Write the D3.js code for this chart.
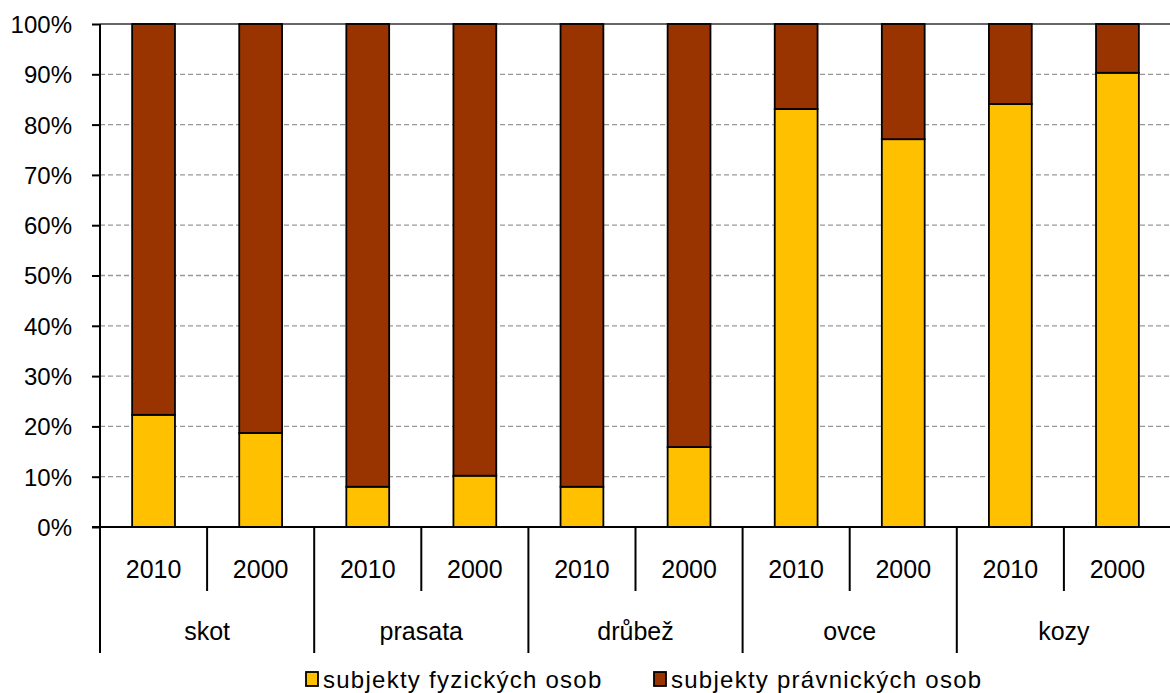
<!DOCTYPE html>
<html><head><meta charset="utf-8">
<script src="https://cdn.jsdelivr.net/npm/d3@7"></script>
<style>body{margin:0;background:#fff}svg{display:block;font-family:"Liberation Sans",Arial,sans-serif}</style>
</head><body><svg id="c" width="1170" height="693"></svg>
<script>
const groups = ["skot","prasata","drůbež","ovce","kozy"];
const years = ["2010","2000"];
// share of "subjekty fyzických osob" in %, per group in order of years
const fyzicke = [22.3, 18.7, 8.0, 10.2, 8.0, 15.9, 83.1, 77.1, 84.1, 90.3];
const seriesNames = ["subjekty fyzických osob","subjekty právnických osob"];
const colors = ["#FFC000","#993300"];
const yTicks = [0,10,20,30,40,50,60,70,80,90,100];

const svg = d3.select("#c");
const L = 100, R = 1171, T = 24, B = 527;
const rows = [];
groups.forEach((g,gi)=>years.forEach((y,yi)=>{
  const v = fyzicke[gi*2+yi];
  rows.push({key:g+"|"+y, group:g, year:y, f:v, p:100-v});
}));
const x = d3.scaleBand().domain(rows.map(d=>d.key)).range([L,R]).paddingInner(0.6).paddingOuter(0.3);
const slot = d3.scaleBand().domain(rows.map(d=>d.key)).range([L,R]);
const gx = d3.scaleBand().domain(groups).range([L,R]);
const y = d3.scaleLinear().domain([0,100]).range([B,T]);

// grid
svg.append("g").selectAll("line").data(yTicks.filter(t=>t>0&&t<100)).join("line")
  .attr("x1",L).attr("x2",R).attr("y1",d=>y(d)).attr("y2",d=>y(d))
  .attr("stroke","#999").attr("stroke-width",1.3).attr("stroke-dasharray","5,3");
svg.append("line").attr("x1",L).attr("x2",R).attr("y1",y(100)).attr("y2",y(100)).attr("stroke","#333").attr("stroke-width",1.5);

// bars
const stack = d3.stack().keys(["f","p"])(rows);
svg.append("g").selectAll("g").data(stack).join("g").attr("fill",(d,i)=>colors[i])
  .selectAll("rect").data(d=>d).join("rect")
  .attr("x",d=>x(d.data.key)).attr("width",x.bandwidth())
  .attr("y",d=>y(d[1])).attr("height",d=>y(d[0])-y(d[1]))
  .attr("stroke","#000").attr("stroke-width",1.8);

// y axis
const ya = svg.append("g").attr("transform",`translate(${L},0)`)
  .call(d3.axisLeft(y).tickValues(yTicks).tickSize(8).tickPadding(20).tickFormat(d=>d+"%"));
ya.select(".domain").attr("stroke","#000").attr("stroke-width",2).attr("d",`M0,${T}V${B}`);
ya.selectAll(".tick line").attr("stroke","#000").attr("stroke-width",2);
ya.selectAll(".tick text").attr("font-size",24).attr("fill","#000").attr("font-family","Liberation Sans, Arial, sans-serif").attr("dy","0.35em");

// x axis line
svg.append("line").attr("x1",L-8).attr("x2",R).attr("y1",B).attr("y2",B).attr("stroke","#000").attr("stroke-width",2);

// separators
const inner = groups.map(g=>slot(g+"|2000"));
svg.append("g").selectAll("line").data(inner).join("line")
  .attr("x1",d=>d).attr("x2",d=>d).attr("y1",B).attr("y2",591).attr("stroke","#000").attr("stroke-width",2);
const outer = groups.map(g=>gx(g)).concat([R]);
svg.append("g").selectAll("line").data(outer).join("line")
  .attr("x1",d=>d).attr("x2",d=>d).attr("y1",B).attr("y2",653).attr("stroke","#000").attr("stroke-width",2);

// year labels
svg.append("g").selectAll("text").data(rows).join("text")
  .attr("x",d=>slot(d.key)+slot.bandwidth()/2).attr("y",578)
  .attr("text-anchor","middle").attr("font-size",25).text(d=>d.year);
svg.append("g").selectAll("text").data(groups).join("text")
  .attr("x",d=>gx(d)+gx.bandwidth()/2).attr("y",640)
  .attr("text-anchor","middle").attr("font-size",25).text(d=>d);

// legend
const leg = [{x:306},{x:654}];
const lg = svg.append("g");
seriesNames.forEach((n,i)=>{
  lg.append("rect").attr("x",leg[i].x).attr("y",672).attr("width",12).attr("height",14)
    .attr("fill",colors[i]).attr("stroke","#000").attr("stroke-width",1.8);
  lg.append("text").attr("x",leg[i].x+17).attr("y",688).attr("font-size",24)
    .attr("letter-spacing","1.25px").text(n);
});
</script></body></html>
